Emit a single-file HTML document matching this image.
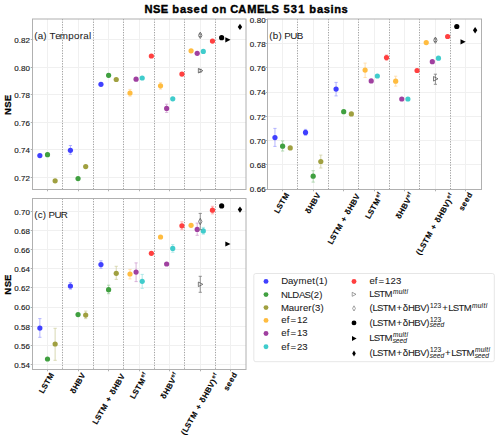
<!DOCTYPE html><html><head><meta charset="utf-8"><style>html,body{margin:0;padding:0;background:#fff;width:500px;height:441px;overflow:hidden;position:relative}</style></head><body><svg width="500" height="441" viewBox="0 0 500 441" style="position:absolute;left:0;top:0">
<rect width="500" height="441" fill="#fff"/>
<text x="144.47 153.12 160.63 168.32 172.16 179.92 186.72 193.54 200.70 208.24 211.94 219.43 226.95 230.28 238.36 247.21 257.12 264.50 271.46 279.34 283.39 290.84 298.29 305.43 309.28 317.03 323.83 330.40 334.20 341.50" y="13.10" font-family='"Liberation Sans", sans-serif' font-size="11.1" font-weight="bold" stroke="#000" stroke-width="0.4" fill="#000">NSE based on CAMELS 531 basins</text>
<line x1="32.5" y1="177.5" x2="246.0" y2="177.5" stroke="#f0f0f0" stroke-width="1"/>
<line x1="32.5" y1="149.5" x2="246.0" y2="149.5" stroke="#f0f0f0" stroke-width="1"/>
<line x1="32.5" y1="122.5" x2="246.0" y2="122.5" stroke="#f0f0f0" stroke-width="1"/>
<line x1="32.5" y1="94.5" x2="246.0" y2="94.5" stroke="#f0f0f0" stroke-width="1"/>
<line x1="32.5" y1="67.5" x2="246.0" y2="67.5" stroke="#f0f0f0" stroke-width="1"/>
<line x1="32.5" y1="39.5" x2="246.0" y2="39.5" stroke="#f0f0f0" stroke-width="1"/>
<line x1="47.5" y1="19.0" x2="47.5" y2="189.5" stroke="#f0f0f0" stroke-width="1"/>
<line x1="78.5" y1="19.0" x2="78.5" y2="189.5" stroke="#f0f0f0" stroke-width="1"/>
<line x1="108.5" y1="19.0" x2="108.5" y2="189.5" stroke="#f0f0f0" stroke-width="1"/>
<line x1="139.5" y1="19.0" x2="139.5" y2="189.5" stroke="#f0f0f0" stroke-width="1"/>
<line x1="169.5" y1="19.0" x2="169.5" y2="189.5" stroke="#f0f0f0" stroke-width="1"/>
<line x1="200.5" y1="19.0" x2="200.5" y2="189.5" stroke="#f0f0f0" stroke-width="1"/>
<line x1="230.5" y1="19.0" x2="230.5" y2="189.5" stroke="#f0f0f0" stroke-width="1"/>
<line x1="62.5" y1="19.0" x2="62.5" y2="189.5" stroke="#a2a2a2" stroke-width="1" stroke-dasharray="1.3 1.3"/>
<line x1="93.5" y1="19.0" x2="93.5" y2="189.5" stroke="#a2a2a2" stroke-width="1" stroke-dasharray="1.3 1.3"/>
<line x1="123.5" y1="19.0" x2="123.5" y2="189.5" stroke="#a2a2a2" stroke-width="1" stroke-dasharray="1.3 1.3"/>
<line x1="154.5" y1="19.0" x2="154.5" y2="189.5" stroke="#a2a2a2" stroke-width="1" stroke-dasharray="1.3 1.3"/>
<line x1="184.5" y1="19.0" x2="184.5" y2="189.5" stroke="#a2a2a2" stroke-width="1" stroke-dasharray="1.3 1.3"/>
<line x1="215.5" y1="19.0" x2="215.5" y2="189.5" stroke="#a2a2a2" stroke-width="1" stroke-dasharray="1.3 1.3"/>
<rect x="32.5" y="19.0" width="213.50" height="170.50" fill="none" stroke="#b0b0b0" stroke-width="1"/>
<line x1="30.7" y1="177.5" x2="32.5" y2="177.5" stroke="#b0b0b0" stroke-width="1"/>
<text x="14.25 18.77 21.06 25.60" y="180.90" font-family='"Liberation Sans", sans-serif' font-size="8.0" stroke="#1a1a1a" stroke-width="0.15" fill="#1a1a1a">0.72</text>
<line x1="30.7" y1="149.5" x2="32.5" y2="149.5" stroke="#b0b0b0" stroke-width="1"/>
<text x="14.25 18.77 21.06 25.60" y="152.90" font-family='"Liberation Sans", sans-serif' font-size="8.0" stroke="#1a1a1a" stroke-width="0.15" fill="#1a1a1a">0.74</text>
<line x1="30.7" y1="122.5" x2="32.5" y2="122.5" stroke="#b0b0b0" stroke-width="1"/>
<text x="14.25 18.77 21.06 25.60" y="125.90" font-family='"Liberation Sans", sans-serif' font-size="8.0" stroke="#1a1a1a" stroke-width="0.15" fill="#1a1a1a">0.76</text>
<line x1="30.7" y1="94.5" x2="32.5" y2="94.5" stroke="#b0b0b0" stroke-width="1"/>
<text x="14.25 18.77 21.06 25.60" y="97.90" font-family='"Liberation Sans", sans-serif' font-size="8.0" stroke="#1a1a1a" stroke-width="0.15" fill="#1a1a1a">0.78</text>
<line x1="30.7" y1="67.5" x2="32.5" y2="67.5" stroke="#b0b0b0" stroke-width="1"/>
<text x="14.25 18.77 21.06 25.60" y="70.90" font-family='"Liberation Sans", sans-serif' font-size="8.0" stroke="#1a1a1a" stroke-width="0.15" fill="#1a1a1a">0.80</text>
<line x1="30.7" y1="39.5" x2="32.5" y2="39.5" stroke="#b0b0b0" stroke-width="1"/>
<text x="14.25 18.77 21.06 25.60" y="42.90" font-family='"Liberation Sans", sans-serif' font-size="8.0" stroke="#1a1a1a" stroke-width="0.15" fill="#1a1a1a">0.82</text>
<line x1="47.5" y1="189.5" x2="47.5" y2="191.3" stroke="#b0b0b0" stroke-width="1"/>
<line x1="78.5" y1="189.5" x2="78.5" y2="191.3" stroke="#b0b0b0" stroke-width="1"/>
<line x1="108.5" y1="189.5" x2="108.5" y2="191.3" stroke="#b0b0b0" stroke-width="1"/>
<line x1="139.5" y1="189.5" x2="139.5" y2="191.3" stroke="#b0b0b0" stroke-width="1"/>
<line x1="169.5" y1="189.5" x2="169.5" y2="191.3" stroke="#b0b0b0" stroke-width="1"/>
<line x1="200.5" y1="189.5" x2="200.5" y2="191.3" stroke="#b0b0b0" stroke-width="1"/>
<line x1="230.5" y1="189.5" x2="230.5" y2="191.3" stroke="#b0b0b0" stroke-width="1"/>
<text x="34.24 37.71 43.37 46.86 49.46 55.30 59.63 68.31 73.98 79.73 83.29 88.98" y="38.50" font-family='"Liberation Sans", sans-serif' font-size="9.8" stroke="#1a1a1a" stroke-width="0.05" fill="#1a1a1a">(a) Temporal</text>
<circle cx="39.86" cy="155.6" r="2.6" fill="#4040ff"/>
<path d="M47.50,153.0V156.4M45.90,153.0h3.2M45.90,156.4h3.2" stroke="#a6d2a6" stroke-width="0.85" fill="none"/>
<circle cx="47.50" cy="154.7" r="2.6" fill="#40a040"/>
<circle cx="55.14" cy="180.8" r="2.6" fill="#a0a040"/>
<path d="M70.41,145.5V154.3M68.81,145.5h3.2M68.81,154.3h3.2" stroke="#a8a8ff" stroke-width="0.85" fill="none"/>
<circle cx="70.41" cy="150.3" r="2.6" fill="#4040ff"/>
<circle cx="78.05" cy="178.6" r="2.6" fill="#40a040"/>
<circle cx="85.69" cy="166.6" r="2.6" fill="#a0a040"/>
<circle cx="100.96" cy="84.3" r="2.6" fill="#4040ff"/>
<path d="M108.60,73.5V77.0M107.00,73.5h3.2M107.00,77.0h3.2" stroke="#a6d2a6" stroke-width="0.85" fill="none"/>
<circle cx="108.60" cy="75.3" r="2.6" fill="#40a040"/>
<circle cx="116.24" cy="79.5" r="2.6" fill="#a0a040"/>
<path d="M129.99,89.4V96.2M128.39,89.4h3.2M128.39,96.2h3.2" stroke="#ffdca6" stroke-width="0.85" fill="none"/>
<circle cx="129.99" cy="93.0" r="2.6" fill="#ffbc40"/>
<circle cx="136.09" cy="79.2" r="2.6" fill="#a040a0"/>
<circle cx="142.20" cy="78.0" r="2.6" fill="#40cccc"/>
<circle cx="151.37" cy="56.0" r="2.6" fill="#ff4040"/>
<path d="M160.54,82.6V89.1M158.94,82.6h3.2M158.94,89.1h3.2" stroke="#ffdca6" stroke-width="0.85" fill="none"/>
<circle cx="160.54" cy="85.8" r="2.6" fill="#ffbc40"/>
<path d="M166.64,104.2V112.4M165.04,104.2h3.2M165.04,112.4h3.2" stroke="#d2a6d2" stroke-width="0.85" fill="none"/>
<circle cx="166.64" cy="108.4" r="2.6" fill="#a040a0"/>
<circle cx="172.75" cy="98.8" r="2.6" fill="#40cccc"/>
<circle cx="181.92" cy="74.1" r="2.6" fill="#ff4040"/>
<circle cx="191.09" cy="50.8" r="2.6" fill="#ffbc40"/>
<circle cx="197.20" cy="53.3" r="2.6" fill="#a040a0"/>
<circle cx="203.31" cy="51.4" r="2.6" fill="#40cccc"/>
<circle cx="212.47" cy="41.1" r="2.6" fill="#ff4040"/>
<path d="M200.25,34.0V36.6M198.65,34.0h3.2M198.65,36.6h3.2" stroke="#808080" stroke-width="0.85" fill="none"/>
<path d="M200.25,32.10 L201.95,35.30 L200.25,38.50 L198.55,35.30 Z" fill="none" stroke="#555" stroke-width="0.75"/>
<path d="M200.25,69.3V72.1M198.65,69.3h3.2M198.65,72.1h3.2" stroke="#808080" stroke-width="0.85" fill="none"/>
<path d="M198.35,68.40 L202.85,70.70 L198.35,73.00 Z" fill="none" stroke="#555" stroke-width="0.75"/>
<circle cx="221.64" cy="37.7" r="2.6" fill="#000"/>
<path d="M225.34,37.20 L230.55,39.80 L225.34,42.40 Z" fill="#000"/>
<path d="M239.97,23.70 L242.16,26.90 L239.97,30.10 L237.77,26.90 Z" fill="#000"/>
<line x1="267.5" y1="164.5" x2="481.5" y2="164.5" stroke="#f0f0f0" stroke-width="1"/>
<line x1="267.5" y1="140.5" x2="481.5" y2="140.5" stroke="#f0f0f0" stroke-width="1"/>
<line x1="267.5" y1="116.5" x2="481.5" y2="116.5" stroke="#f0f0f0" stroke-width="1"/>
<line x1="267.5" y1="92.5" x2="481.5" y2="92.5" stroke="#f0f0f0" stroke-width="1"/>
<line x1="267.5" y1="67.5" x2="481.5" y2="67.5" stroke="#f0f0f0" stroke-width="1"/>
<line x1="267.5" y1="43.5" x2="481.5" y2="43.5" stroke="#f0f0f0" stroke-width="1"/>
<line x1="282.5" y1="19.0" x2="282.5" y2="189.5" stroke="#f0f0f0" stroke-width="1"/>
<line x1="313.5" y1="19.0" x2="313.5" y2="189.5" stroke="#f0f0f0" stroke-width="1"/>
<line x1="343.5" y1="19.0" x2="343.5" y2="189.5" stroke="#f0f0f0" stroke-width="1"/>
<line x1="374.5" y1="19.0" x2="374.5" y2="189.5" stroke="#f0f0f0" stroke-width="1"/>
<line x1="404.5" y1="19.0" x2="404.5" y2="189.5" stroke="#f0f0f0" stroke-width="1"/>
<line x1="435.5" y1="19.0" x2="435.5" y2="189.5" stroke="#f0f0f0" stroke-width="1"/>
<line x1="465.5" y1="19.0" x2="465.5" y2="189.5" stroke="#f0f0f0" stroke-width="1"/>
<line x1="297.5" y1="19.0" x2="297.5" y2="189.5" stroke="#a2a2a2" stroke-width="1" stroke-dasharray="1.3 1.3"/>
<line x1="328.5" y1="19.0" x2="328.5" y2="189.5" stroke="#a2a2a2" stroke-width="1" stroke-dasharray="1.3 1.3"/>
<line x1="358.5" y1="19.0" x2="358.5" y2="189.5" stroke="#a2a2a2" stroke-width="1" stroke-dasharray="1.3 1.3"/>
<line x1="389.5" y1="19.0" x2="389.5" y2="189.5" stroke="#a2a2a2" stroke-width="1" stroke-dasharray="1.3 1.3"/>
<line x1="419.5" y1="19.0" x2="419.5" y2="189.5" stroke="#a2a2a2" stroke-width="1" stroke-dasharray="1.3 1.3"/>
<line x1="450.5" y1="19.0" x2="450.5" y2="189.5" stroke="#a2a2a2" stroke-width="1" stroke-dasharray="1.3 1.3"/>
<rect x="267.5" y="19.0" width="214.00" height="170.50" fill="none" stroke="#b0b0b0" stroke-width="1"/>
<line x1="265.7" y1="189.5" x2="267.5" y2="189.5" stroke="#b0b0b0" stroke-width="1"/>
<text x="249.85 254.37 256.66 261.20" y="192.40" font-family='"Liberation Sans", sans-serif' font-size="8.0" stroke="#1a1a1a" stroke-width="0.15" fill="#1a1a1a">0.66</text>
<line x1="265.7" y1="164.5" x2="267.5" y2="164.5" stroke="#b0b0b0" stroke-width="1"/>
<text x="249.85 254.37 256.66 261.20" y="168.17" font-family='"Liberation Sans", sans-serif' font-size="8.0" stroke="#1a1a1a" stroke-width="0.15" fill="#1a1a1a">0.68</text>
<line x1="265.7" y1="140.5" x2="267.5" y2="140.5" stroke="#b0b0b0" stroke-width="1"/>
<text x="249.85 254.37 256.66 261.20" y="143.94" font-family='"Liberation Sans", sans-serif' font-size="8.0" stroke="#1a1a1a" stroke-width="0.15" fill="#1a1a1a">0.70</text>
<line x1="265.7" y1="116.5" x2="267.5" y2="116.5" stroke="#b0b0b0" stroke-width="1"/>
<text x="249.85 254.37 256.66 261.20" y="119.71" font-family='"Liberation Sans", sans-serif' font-size="8.0" stroke="#1a1a1a" stroke-width="0.15" fill="#1a1a1a">0.72</text>
<line x1="265.7" y1="92.5" x2="267.5" y2="92.5" stroke="#b0b0b0" stroke-width="1"/>
<text x="249.85 254.37 256.66 261.20" y="95.48" font-family='"Liberation Sans", sans-serif' font-size="8.0" stroke="#1a1a1a" stroke-width="0.15" fill="#1a1a1a">0.74</text>
<line x1="265.7" y1="67.5" x2="267.5" y2="67.5" stroke="#b0b0b0" stroke-width="1"/>
<text x="249.85 254.37 256.66 261.20" y="71.25" font-family='"Liberation Sans", sans-serif' font-size="8.0" stroke="#1a1a1a" stroke-width="0.15" fill="#1a1a1a">0.76</text>
<line x1="265.7" y1="43.5" x2="267.5" y2="43.5" stroke="#b0b0b0" stroke-width="1"/>
<text x="249.85 254.37 256.66 261.20" y="47.02" font-family='"Liberation Sans", sans-serif' font-size="8.0" stroke="#1a1a1a" stroke-width="0.15" fill="#1a1a1a">0.78</text>
<line x1="265.7" y1="19.5" x2="267.5" y2="19.5" stroke="#b0b0b0" stroke-width="1"/>
<text x="249.85 254.37 256.66 261.20" y="22.79" font-family='"Liberation Sans", sans-serif' font-size="8.0" stroke="#1a1a1a" stroke-width="0.15" fill="#1a1a1a">0.80</text>
<line x1="282.5" y1="189.5" x2="282.5" y2="191.3" stroke="#b0b0b0" stroke-width="1"/>
<line x1="313.5" y1="189.5" x2="313.5" y2="191.3" stroke="#b0b0b0" stroke-width="1"/>
<line x1="343.5" y1="189.5" x2="343.5" y2="191.3" stroke="#b0b0b0" stroke-width="1"/>
<line x1="374.5" y1="189.5" x2="374.5" y2="191.3" stroke="#b0b0b0" stroke-width="1"/>
<line x1="404.5" y1="189.5" x2="404.5" y2="191.3" stroke="#b0b0b0" stroke-width="1"/>
<line x1="435.5" y1="189.5" x2="435.5" y2="191.3" stroke="#b0b0b0" stroke-width="1"/>
<line x1="465.5" y1="189.5" x2="465.5" y2="191.3" stroke="#b0b0b0" stroke-width="1"/>
<text x="269.24 272.81 278.57 282.06 284.35 290.15 296.87" y="38.50" font-family='"Liberation Sans", sans-serif' font-size="9.8" stroke="#1a1a1a" stroke-width="0.05" fill="#1a1a1a">(b) PUB</text>
<path d="M274.96,128.4V146.4M273.36,128.4h3.2M273.36,146.4h3.2" stroke="#a8a8ff" stroke-width="0.85" fill="none"/>
<circle cx="274.96" cy="137.6" r="2.6" fill="#4040ff"/>
<path d="M282.60,140.9V151.0M281.00,140.9h3.2M281.00,151.0h3.2" stroke="#a6d2a6" stroke-width="0.85" fill="none"/>
<circle cx="282.60" cy="146.2" r="2.6" fill="#40a040"/>
<circle cx="290.24" cy="147.9" r="2.6" fill="#a0a040"/>
<path d="M305.52,129.4V135.4M303.92,129.4h3.2M303.92,135.4h3.2" stroke="#a8a8ff" stroke-width="0.85" fill="none"/>
<circle cx="305.52" cy="132.4" r="2.6" fill="#4040ff"/>
<path d="M313.16,170.7V182.1M311.56,170.7h3.2M311.56,182.1h3.2" stroke="#a6d2a6" stroke-width="0.85" fill="none"/>
<circle cx="313.16" cy="176.2" r="2.6" fill="#40a040"/>
<path d="M320.80,155.1V168.0M319.20,155.1h3.2M319.20,168.0h3.2" stroke="#d2d2a6" stroke-width="0.85" fill="none"/>
<circle cx="320.80" cy="161.5" r="2.6" fill="#a0a040"/>
<path d="M336.08,82.4V95.9M334.48,82.4h3.2M334.48,95.9h3.2" stroke="#a8a8ff" stroke-width="0.85" fill="none"/>
<circle cx="336.08" cy="89.1" r="2.6" fill="#4040ff"/>
<circle cx="343.72" cy="111.7" r="2.6" fill="#40a040"/>
<circle cx="351.36" cy="113.9" r="2.6" fill="#a0a040"/>
<path d="M365.11,63.1V77.5M363.51,63.1h3.2M363.51,77.5h3.2" stroke="#ffdca6" stroke-width="0.85" fill="none"/>
<circle cx="365.11" cy="70.1" r="2.6" fill="#ffbc40"/>
<circle cx="371.22" cy="80.9" r="2.6" fill="#a040a0"/>
<circle cx="377.34" cy="76.0" r="2.6" fill="#40cccc"/>
<path d="M386.50,55.0V60.2M384.90,55.0h3.2M384.90,60.2h3.2" stroke="#ffa6a6" stroke-width="0.85" fill="none"/>
<circle cx="386.50" cy="57.6" r="2.6" fill="#ff4040"/>
<path d="M395.67,76.2V86.1M394.07,76.2h3.2M394.07,86.1h3.2" stroke="#ffdca6" stroke-width="0.85" fill="none"/>
<circle cx="395.67" cy="81.2" r="2.6" fill="#ffbc40"/>
<circle cx="401.78" cy="99.0" r="2.6" fill="#a040a0"/>
<circle cx="407.90" cy="99.0" r="2.6" fill="#40cccc"/>
<circle cx="417.06" cy="70.5" r="2.6" fill="#ff4040"/>
<circle cx="426.23" cy="42.6" r="2.6" fill="#ffbc40"/>
<circle cx="432.34" cy="61.7" r="2.6" fill="#a040a0"/>
<circle cx="438.46" cy="58.2" r="2.6" fill="#40cccc"/>
<circle cx="447.62" cy="36.5" r="2.6" fill="#ff4040"/>
<path d="M435.40,38.8V41.6M433.80,38.8h3.2M433.80,41.6h3.2" stroke="#808080" stroke-width="0.85" fill="none"/>
<path d="M435.40,37.00 L437.10,40.20 L435.40,43.40 L433.70,40.20 Z" fill="none" stroke="#555" stroke-width="0.75"/>
<path d="M435.40,74.2V84.3M433.80,74.2h3.2M433.80,84.3h3.2" stroke="#808080" stroke-width="0.85" fill="none"/>
<path d="M433.50,76.50 L438.00,78.80 L433.50,81.10 Z" fill="none" stroke="#555" stroke-width="0.75"/>
<circle cx="456.79" cy="26.5" r="2.6" fill="#000"/>
<path d="M460.50,39.20 L465.70,41.80 L460.50,44.40 Z" fill="#000"/>
<path d="M475.13,27.00 L477.33,30.20 L475.13,33.40 L472.93,30.20 Z" fill="#000"/>
<g transform="translate(278.40,214.00) rotate(-60)"><text x="-0.01 4.83 10.27 15.65" y="0.00" font-family='"Liberation Sans", sans-serif' font-size="7.8" font-weight="bold" stroke="#000" stroke-width="0.12" fill="#000">LSTM</text></g>
<g transform="translate(309.53,214.50) rotate(-60)"><text x="0.19 5.42 11.38 17.31" y="0.00" font-family='"Liberation Sans", sans-serif' font-size="7.8" font-weight="bold" stroke="#000" stroke-width="0.12" fill="#000">δHBV</text></g>
<g transform="translate(331.95,245.00) rotate(-60)"><text x="-0.01 4.83 10.27 15.65 22.82 26.05 31.66 34.23 39.46 45.41 51.35" y="0.00" font-family='"Liberation Sans", sans-serif' font-size="7.8" font-weight="bold" stroke="#000" stroke-width="0.12" fill="#000">LSTM + δHBV</text></g>
<g transform="translate(369.48,219.60) rotate(-60)"><text x="-0.01 4.83 10.27 15.65" y="0.00" font-family='"Liberation Sans", sans-serif' font-size="7.8" font-weight="bold" stroke="#000" stroke-width="0.12" fill="#000">LSTM</text><text x="23.16 26.67" y="-3.13" font-family='"Liberation Sans", sans-serif' font-size="5.46" font-weight="bold" stroke="#000" stroke-width="0.08" fill="#000">ef</text></g>
<g transform="translate(399.84,219.60) rotate(-60)"><text x="0.19 5.42 11.38 17.31" y="0.00" font-family='"Liberation Sans", sans-serif' font-size="7.8" font-weight="bold" stroke="#000" stroke-width="0.12" fill="#000">δHBV</text><text x="23.05 26.56" y="-3.13" font-family='"Liberation Sans", sans-serif' font-size="5.46" font-weight="bold" stroke="#000" stroke-width="0.08" fill="#000">ef</text></g>
<g transform="translate(420.10,255.80) rotate(-60)"><text x="0.40 3.40 8.23 13.68 19.06 26.23 29.45 35.06 37.64 42.86 48.82 54.76 60.34" y="0.00" font-family='"Liberation Sans", sans-serif' font-size="7.8" font-weight="bold" stroke="#000" stroke-width="0.12" fill="#000">(LSTM + δHBV)</text><text x="63.89 67.41" y="-3.13" font-family='"Liberation Sans", sans-serif' font-size="5.46" font-weight="bold" stroke="#000" stroke-width="0.08" fill="#000">ef</text></g>
<g transform="translate(462.86,211.30) rotate(-60)"><text x="0.05 4.79 9.84 14.82" y="0.00" font-family='"Liberation Sans", sans-serif' font-size="7.8" font-weight="bold" stroke="#000" stroke-width="0.12" fill="#000">seed</text></g>
<line x1="32.5" y1="364.5" x2="246.0" y2="364.5" stroke="#f0f0f0" stroke-width="1"/>
<line x1="32.5" y1="345.5" x2="246.0" y2="345.5" stroke="#f0f0f0" stroke-width="1"/>
<line x1="32.5" y1="326.5" x2="246.0" y2="326.5" stroke="#f0f0f0" stroke-width="1"/>
<line x1="32.5" y1="307.5" x2="246.0" y2="307.5" stroke="#f0f0f0" stroke-width="1"/>
<line x1="32.5" y1="287.5" x2="246.0" y2="287.5" stroke="#f0f0f0" stroke-width="1"/>
<line x1="32.5" y1="268.5" x2="246.0" y2="268.5" stroke="#f0f0f0" stroke-width="1"/>
<line x1="32.5" y1="249.5" x2="246.0" y2="249.5" stroke="#f0f0f0" stroke-width="1"/>
<line x1="32.5" y1="230.5" x2="246.0" y2="230.5" stroke="#f0f0f0" stroke-width="1"/>
<line x1="32.5" y1="211.5" x2="246.0" y2="211.5" stroke="#f0f0f0" stroke-width="1"/>
<line x1="47.5" y1="198.5" x2="47.5" y2="369.5" stroke="#f0f0f0" stroke-width="1"/>
<line x1="78.5" y1="198.5" x2="78.5" y2="369.5" stroke="#f0f0f0" stroke-width="1"/>
<line x1="108.5" y1="198.5" x2="108.5" y2="369.5" stroke="#f0f0f0" stroke-width="1"/>
<line x1="139.5" y1="198.5" x2="139.5" y2="369.5" stroke="#f0f0f0" stroke-width="1"/>
<line x1="169.5" y1="198.5" x2="169.5" y2="369.5" stroke="#f0f0f0" stroke-width="1"/>
<line x1="200.5" y1="198.5" x2="200.5" y2="369.5" stroke="#f0f0f0" stroke-width="1"/>
<line x1="230.5" y1="198.5" x2="230.5" y2="369.5" stroke="#f0f0f0" stroke-width="1"/>
<line x1="62.5" y1="198.5" x2="62.5" y2="369.5" stroke="#a2a2a2" stroke-width="1" stroke-dasharray="1.3 1.3"/>
<line x1="93.5" y1="198.5" x2="93.5" y2="369.5" stroke="#a2a2a2" stroke-width="1" stroke-dasharray="1.3 1.3"/>
<line x1="123.5" y1="198.5" x2="123.5" y2="369.5" stroke="#a2a2a2" stroke-width="1" stroke-dasharray="1.3 1.3"/>
<line x1="154.5" y1="198.5" x2="154.5" y2="369.5" stroke="#a2a2a2" stroke-width="1" stroke-dasharray="1.3 1.3"/>
<line x1="184.5" y1="198.5" x2="184.5" y2="369.5" stroke="#a2a2a2" stroke-width="1" stroke-dasharray="1.3 1.3"/>
<line x1="215.5" y1="198.5" x2="215.5" y2="369.5" stroke="#a2a2a2" stroke-width="1" stroke-dasharray="1.3 1.3"/>
<rect x="32.5" y="198.5" width="213.50" height="171.00" fill="none" stroke="#b0b0b0" stroke-width="1"/>
<line x1="30.7" y1="364.5" x2="32.5" y2="364.5" stroke="#b0b0b0" stroke-width="1"/>
<text x="14.25 18.77 21.06 25.60" y="368.00" font-family='"Liberation Sans", sans-serif' font-size="8.0" stroke="#1a1a1a" stroke-width="0.15" fill="#1a1a1a">0.54</text>
<line x1="30.7" y1="345.5" x2="32.5" y2="345.5" stroke="#b0b0b0" stroke-width="1"/>
<text x="14.25 18.77 21.06 25.60" y="348.82" font-family='"Liberation Sans", sans-serif' font-size="8.0" stroke="#1a1a1a" stroke-width="0.15" fill="#1a1a1a">0.56</text>
<line x1="30.7" y1="326.5" x2="32.5" y2="326.5" stroke="#b0b0b0" stroke-width="1"/>
<text x="14.25 18.77 21.06 25.60" y="329.65" font-family='"Liberation Sans", sans-serif' font-size="8.0" stroke="#1a1a1a" stroke-width="0.15" fill="#1a1a1a">0.58</text>
<line x1="30.7" y1="307.5" x2="32.5" y2="307.5" stroke="#b0b0b0" stroke-width="1"/>
<text x="14.25 18.77 21.06 25.60" y="310.48" font-family='"Liberation Sans", sans-serif' font-size="8.0" stroke="#1a1a1a" stroke-width="0.15" fill="#1a1a1a">0.60</text>
<line x1="30.7" y1="287.5" x2="32.5" y2="287.5" stroke="#b0b0b0" stroke-width="1"/>
<text x="14.25 18.77 21.06 25.60" y="291.30" font-family='"Liberation Sans", sans-serif' font-size="8.0" stroke="#1a1a1a" stroke-width="0.15" fill="#1a1a1a">0.62</text>
<line x1="30.7" y1="268.5" x2="32.5" y2="268.5" stroke="#b0b0b0" stroke-width="1"/>
<text x="14.25 18.77 21.06 25.60" y="272.12" font-family='"Liberation Sans", sans-serif' font-size="8.0" stroke="#1a1a1a" stroke-width="0.15" fill="#1a1a1a">0.64</text>
<line x1="30.7" y1="249.5" x2="32.5" y2="249.5" stroke="#b0b0b0" stroke-width="1"/>
<text x="14.25 18.77 21.06 25.60" y="252.95" font-family='"Liberation Sans", sans-serif' font-size="8.0" stroke="#1a1a1a" stroke-width="0.15" fill="#1a1a1a">0.66</text>
<line x1="30.7" y1="230.5" x2="32.5" y2="230.5" stroke="#b0b0b0" stroke-width="1"/>
<text x="14.25 18.77 21.06 25.60" y="233.78" font-family='"Liberation Sans", sans-serif' font-size="8.0" stroke="#1a1a1a" stroke-width="0.15" fill="#1a1a1a">0.68</text>
<line x1="30.7" y1="211.5" x2="32.5" y2="211.5" stroke="#b0b0b0" stroke-width="1"/>
<text x="14.25 18.77 21.06 25.60" y="214.60" font-family='"Liberation Sans", sans-serif' font-size="8.0" stroke="#1a1a1a" stroke-width="0.15" fill="#1a1a1a">0.70</text>
<line x1="47.5" y1="369.5" x2="47.5" y2="371.3" stroke="#b0b0b0" stroke-width="1"/>
<line x1="78.5" y1="369.5" x2="78.5" y2="371.3" stroke="#b0b0b0" stroke-width="1"/>
<line x1="108.5" y1="369.5" x2="108.5" y2="371.3" stroke="#b0b0b0" stroke-width="1"/>
<line x1="139.5" y1="369.5" x2="139.5" y2="371.3" stroke="#b0b0b0" stroke-width="1"/>
<line x1="169.5" y1="369.5" x2="169.5" y2="371.3" stroke="#b0b0b0" stroke-width="1"/>
<line x1="200.5" y1="369.5" x2="200.5" y2="371.3" stroke="#b0b0b0" stroke-width="1"/>
<line x1="230.5" y1="369.5" x2="230.5" y2="371.3" stroke="#b0b0b0" stroke-width="1"/>
<text x="34.24 37.70 42.80 46.29 48.57 54.38 60.87" y="218.00" font-family='"Liberation Sans", sans-serif' font-size="9.8" stroke="#1a1a1a" stroke-width="0.05" fill="#1a1a1a">(c) PUR</text>
<path d="M39.86,318.6V337.3M38.26,318.6h3.2M38.26,337.3h3.2" stroke="#a8a8ff" stroke-width="0.85" fill="none"/>
<circle cx="39.86" cy="328.1" r="2.6" fill="#4040ff"/>
<circle cx="47.50" cy="359.0" r="2.6" fill="#40a040"/>
<path d="M55.14,328.3V360.3M53.54,328.3h3.2M53.54,360.3h3.2" stroke="#d2d2a6" stroke-width="0.85" fill="none"/>
<circle cx="55.14" cy="344.0" r="2.6" fill="#a0a040"/>
<path d="M70.41,282.5V289.2M68.81,282.5h3.2M68.81,289.2h3.2" stroke="#a8a8ff" stroke-width="0.85" fill="none"/>
<circle cx="70.41" cy="286.0" r="2.6" fill="#4040ff"/>
<circle cx="78.05" cy="314.6" r="2.6" fill="#40a040"/>
<path d="M85.69,311.1V318.6M84.09,311.1h3.2M84.09,318.6h3.2" stroke="#d2d2a6" stroke-width="0.85" fill="none"/>
<circle cx="85.69" cy="315.1" r="2.6" fill="#a0a040"/>
<path d="M100.96,260.8V268.3M99.36,260.8h3.2M99.36,268.3h3.2" stroke="#a8a8ff" stroke-width="0.85" fill="none"/>
<circle cx="100.96" cy="264.6" r="2.6" fill="#4040ff"/>
<path d="M108.60,285.2V293.7M107.00,285.2h3.2M107.00,293.7h3.2" stroke="#a6d2a6" stroke-width="0.85" fill="none"/>
<circle cx="108.60" cy="289.7" r="2.6" fill="#40a040"/>
<path d="M116.24,266.3V279.4M114.64,266.3h3.2M114.64,279.4h3.2" stroke="#d2d2a6" stroke-width="0.85" fill="none"/>
<circle cx="116.24" cy="273.3" r="2.6" fill="#a0a040"/>
<path d="M129.99,269.4V278.9M128.39,269.4h3.2M128.39,278.9h3.2" stroke="#ffdca6" stroke-width="0.85" fill="none"/>
<circle cx="129.99" cy="274.0" r="2.6" fill="#ffbc40"/>
<path d="M136.09,262.9V281.6M134.50,262.9h3.2M134.50,281.6h3.2" stroke="#d2a6d2" stroke-width="0.85" fill="none"/>
<circle cx="136.09" cy="272.1" r="2.6" fill="#a040a0"/>
<path d="M142.20,274.4V288.4M140.60,274.4h3.2M140.60,288.4h3.2" stroke="#a6e6e6" stroke-width="0.85" fill="none"/>
<circle cx="142.20" cy="281.3" r="2.6" fill="#40cccc"/>
<circle cx="151.37" cy="253.3" r="2.6" fill="#ff4040"/>
<circle cx="160.54" cy="237.0" r="2.6" fill="#ffbc40"/>
<circle cx="166.64" cy="264.0" r="2.6" fill="#a040a0"/>
<path d="M172.75,244.6V252.2M171.16,244.6h3.2M171.16,252.2h3.2" stroke="#a6e6e6" stroke-width="0.85" fill="none"/>
<circle cx="172.75" cy="248.4" r="2.6" fill="#40cccc"/>
<path d="M181.92,221.8V229.7M180.32,221.8h3.2M180.32,229.7h3.2" stroke="#ffa6a6" stroke-width="0.85" fill="none"/>
<circle cx="181.92" cy="225.8" r="2.6" fill="#ff4040"/>
<circle cx="191.09" cy="225.3" r="2.6" fill="#ffbc40"/>
<path d="M197.20,223.1V235.3M195.60,223.1h3.2M195.60,235.3h3.2" stroke="#d2a6d2" stroke-width="0.85" fill="none"/>
<circle cx="197.20" cy="229.4" r="2.6" fill="#a040a0"/>
<path d="M203.31,227.4V234.2M201.71,227.4h3.2M201.71,234.2h3.2" stroke="#a6e6e6" stroke-width="0.85" fill="none"/>
<circle cx="203.31" cy="230.9" r="2.6" fill="#40cccc"/>
<path d="M212.47,206.3V213.9M210.87,206.3h3.2M210.87,213.9h3.2" stroke="#ffa6a6" stroke-width="0.85" fill="none"/>
<circle cx="212.47" cy="210.2" r="2.6" fill="#ff4040"/>
<path d="M200.25,213.4V229.7M198.65,213.4h3.2M198.65,229.7h3.2" stroke="#808080" stroke-width="0.85" fill="none"/>
<path d="M200.25,218.30 L201.95,221.50 L200.25,224.70 L198.55,221.50 Z" fill="none" stroke="#555" stroke-width="0.75"/>
<path d="M200.25,276.3V292.3M198.65,276.3h3.2M198.65,292.3h3.2" stroke="#808080" stroke-width="0.85" fill="none"/>
<path d="M198.35,282.00 L202.85,284.30 L198.35,286.60 Z" fill="none" stroke="#555" stroke-width="0.75"/>
<circle cx="221.64" cy="205.9" r="2.6" fill="#000"/>
<path d="M225.34,241.40 L230.55,244.00 L225.34,246.60 Z" fill="#000"/>
<path d="M239.97,206.40 L242.16,209.60 L239.97,212.80 L237.77,209.60 Z" fill="#000"/>
<g transform="translate(43.30,394.00) rotate(-60)"><text x="-0.01 4.83 10.27 15.65" y="0.00" font-family='"Liberation Sans", sans-serif' font-size="7.8" font-weight="bold" stroke="#000" stroke-width="0.12" fill="#000">LSTM</text></g>
<g transform="translate(74.42,394.50) rotate(-60)"><text x="0.19 5.42 11.38 17.31" y="0.00" font-family='"Liberation Sans", sans-serif' font-size="7.8" font-weight="bold" stroke="#000" stroke-width="0.12" fill="#000">δHBV</text></g>
<g transform="translate(96.83,425.00) rotate(-60)"><text x="-0.01 4.83 10.27 15.65 22.82 26.05 31.66 34.23 39.46 45.41 51.35" y="0.00" font-family='"Liberation Sans", sans-serif' font-size="7.8" font-weight="bold" stroke="#000" stroke-width="0.12" fill="#000">LSTM + δHBV</text></g>
<g transform="translate(134.35,399.60) rotate(-60)"><text x="-0.01 4.83 10.27 15.65" y="0.00" font-family='"Liberation Sans", sans-serif' font-size="7.8" font-weight="bold" stroke="#000" stroke-width="0.12" fill="#000">LSTM</text><text x="23.16 26.67" y="-3.13" font-family='"Liberation Sans", sans-serif' font-size="5.46" font-weight="bold" stroke="#000" stroke-width="0.08" fill="#000">ef</text></g>
<g transform="translate(164.70,399.60) rotate(-60)"><text x="0.19 5.42 11.38 17.31" y="0.00" font-family='"Liberation Sans", sans-serif' font-size="7.8" font-weight="bold" stroke="#000" stroke-width="0.12" fill="#000">δHBV</text><text x="23.05 26.56" y="-3.13" font-family='"Liberation Sans", sans-serif' font-size="5.46" font-weight="bold" stroke="#000" stroke-width="0.08" fill="#000">ef</text></g>
<g transform="translate(184.95,435.80) rotate(-60)"><text x="0.40 3.40 8.23 13.68 19.06 26.23 29.45 35.06 37.64 42.86 48.82 54.76 60.34" y="0.00" font-family='"Liberation Sans", sans-serif' font-size="7.8" font-weight="bold" stroke="#000" stroke-width="0.12" fill="#000">(LSTM + δHBV)</text><text x="63.89 67.41" y="-3.13" font-family='"Liberation Sans", sans-serif' font-size="5.46" font-weight="bold" stroke="#000" stroke-width="0.08" fill="#000">ef</text></g>
<g transform="translate(227.70,391.30) rotate(-60)"><text x="0.05 4.79 9.84 14.82" y="0.00" font-family='"Liberation Sans", sans-serif' font-size="7.8" font-weight="bold" stroke="#000" stroke-width="0.12" fill="#000">seed</text></g>
<g transform="translate(11.4,105.2) rotate(-90)"><text x="-9.89 -2.46 3.99" y="0.00" font-family='"Liberation Sans", sans-serif' font-size="9.5" font-weight="bold" stroke="#000" stroke-width="0.25" fill="#000">NSE</text></g>
<g transform="translate(11.4,284.9) rotate(-90)"><text x="-9.89 -2.46 3.99" y="0.00" font-family='"Liberation Sans", sans-serif' font-size="9.5" font-weight="bold" stroke="#000" stroke-width="0.25" fill="#000">NSE</text></g>
<rect x="253.8" y="273.5" width="240.5" height="88.2" rx="2" ry="2" fill="#fff" stroke="#e0e0e0" stroke-width="0.8"/>
<circle cx="266" cy="281.4" r="2.45" fill="#4040ff"/>
<text x="281.14 287.89 293.34 298.47 306.64 312.30 315.40 318.74 324.23" y="284.30" font-family='"Liberation Sans", sans-serif' font-size="9.6" stroke="#1a1a1a" stroke-width="0.07" fill="#1a1a1a">Daymet(1)</text>
<circle cx="266" cy="294.6" r="2.45" fill="#40a040"/>
<text x="281.05 287.46 292.37 298.89 304.41 310.42 313.76 319.24" y="297.50" font-family='"Liberation Sans", sans-serif' font-size="9.6" stroke="#1a1a1a" stroke-width="0.07" fill="#1a1a1a">NLDAS(2)</text>
<circle cx="266" cy="307.6" r="2.45" fill="#a0a040"/>
<text x="281.01 288.69 294.05 299.61 302.95 308.25 311.69 315.04 320.52" y="310.50" font-family='"Liberation Sans", sans-serif' font-size="9.6" stroke="#1a1a1a" stroke-width="0.07" fill="#1a1a1a">Maurer(3)</text>
<circle cx="266" cy="320.4" r="2.45" fill="#ffbc40"/>
<text x="281.28 286.77 290.42 296.89 302.36" y="323.30" font-family='"Liberation Sans", sans-serif' font-size="9.6" stroke="#1a1a1a" stroke-width="0.07" fill="#1a1a1a">ef=12</text>
<circle cx="266" cy="333.5" r="2.45" fill="#a040a0"/>
<text x="281.28 286.77 290.42 296.89 302.36" y="336.40" font-family='"Liberation Sans", sans-serif' font-size="9.6" stroke="#1a1a1a" stroke-width="0.07" fill="#1a1a1a">ef=13</text>
<circle cx="266" cy="346.7" r="2.45" fill="#40cccc"/>
<text x="281.28 286.77 290.42 296.89 302.36" y="349.60" font-family='"Liberation Sans", sans-serif' font-size="9.6" stroke="#1a1a1a" stroke-width="0.07" fill="#1a1a1a">ef=23</text>
<circle cx="354" cy="281.5" r="2.45" fill="#ff4040"/>
<text x="369.38 374.87 378.52 384.99 390.46 395.93" y="284.40" font-family='"Liberation Sans", sans-serif' font-size="9.6" stroke="#1a1a1a" stroke-width="0.07" fill="#1a1a1a">ef=123</text>
<path d="M352.2,292.3 L356,294.3 L352.2,296.3 Z" fill="#fff" stroke="#666" stroke-width="0.6"/>
<text x="369.13 373.72 379.34 384.62" y="297.20" font-family='"Liberation Sans", sans-serif' font-size="9.6" stroke="#1a1a1a" stroke-width="0.07" fill="#1a1a1a">LSTM</text>
<text x="392.90 398.63 402.47 404.30 406.49" y="293.70" font-family='"Liberation Sans", sans-serif' font-size="6.6" font-style="italic" stroke="#1a1a1a" stroke-width="0.06" fill="#1a1a1a">multi</text>
<path d="M354,305.79999999999995 L355.4,308.4 L354,311.0 L352.6,308.4 Z" fill="#fff" stroke="#666" stroke-width="0.6"/>
<text x="369.48 372.48 377.07 382.70 387.97 396.48 402.84 407.91 414.36 420.25 426.21" y="311.30" font-family='"Liberation Sans", sans-serif' font-size="9.6" stroke="#1a1a1a" stroke-width="0.07" fill="#1a1a1a">(LSTM+δHBV)</text>
<text x="429.96 433.78 437.59" y="307.80" font-family='"Liberation Sans", sans-serif' font-size="6.6" stroke="#1a1a1a" stroke-width="0.06" fill="#1a1a1a">123</text>
<text x="442.14 448.27 452.86 458.49 463.76" y="311.30" font-family='"Liberation Sans", sans-serif' font-size="9.6" stroke="#1a1a1a" stroke-width="0.07" fill="#1a1a1a">+LSTM</text>
<text x="472.04 477.78 481.62 483.44 485.64" y="307.80" font-family='"Liberation Sans", sans-serif' font-size="6.6" font-style="italic" stroke="#1a1a1a" stroke-width="0.06" fill="#1a1a1a">multi</text>
<circle cx="354" cy="322.9" r="2.45" fill="#000"/>
<text x="369.48 372.48 377.07 382.70 387.97 396.48 402.84 407.91 414.36 420.25 426.21" y="325.80" font-family='"Liberation Sans", sans-serif' font-size="9.6" stroke="#1a1a1a" stroke-width="0.07" fill="#1a1a1a">(LSTM+δHBV)</text>
<text x="429.96 433.78 437.59" y="321.60" font-family='"Liberation Sans", sans-serif' font-size="6.6" stroke="#1a1a1a" stroke-width="0.06" fill="#1a1a1a">123</text>
<text x="429.80 433.02 436.71 440.46" y="327.20" font-family='"Liberation Sans", sans-serif' font-size="6.6" font-style="italic" stroke="#1a1a1a" stroke-width="0.06" fill="#1a1a1a">seed</text>
<path d="M352,336.0 L356.6,338.5 L352,341.0 Z" fill="#000"/>
<text x="369.13 373.72 379.34 384.62" y="341.40" font-family='"Liberation Sans", sans-serif' font-size="9.6" stroke="#1a1a1a" stroke-width="0.07" fill="#1a1a1a">LSTM</text>
<text x="392.90 398.63 402.47 404.30 406.49" y="337.20" font-family='"Liberation Sans", sans-serif' font-size="6.6" font-style="italic" stroke="#1a1a1a" stroke-width="0.06" fill="#1a1a1a">multi</text>
<text x="392.64 395.86 399.55 403.30" y="342.80" font-family='"Liberation Sans", sans-serif' font-size="6.6" font-style="italic" stroke="#1a1a1a" stroke-width="0.06" fill="#1a1a1a">seed</text>
<path d="M354,350.5 L355.8,353.5 L354,356.5 L352.2,353.5 Z" fill="#000"/>
<text x="369.48 372.48 377.07 382.70 387.97 396.48 402.84 407.91 414.36 420.25 426.21" y="356.40" font-family='"Liberation Sans", sans-serif' font-size="9.6" stroke="#1a1a1a" stroke-width="0.07" fill="#1a1a1a">(LSTM+δHBV)</text>
<text x="429.96 433.78 437.59" y="352.20" font-family='"Liberation Sans", sans-serif' font-size="6.6" stroke="#1a1a1a" stroke-width="0.06" fill="#1a1a1a">123</text>
<text x="429.80 433.02 436.71 440.46" y="357.80" font-family='"Liberation Sans", sans-serif' font-size="6.6" font-style="italic" stroke="#1a1a1a" stroke-width="0.06" fill="#1a1a1a">seed</text>
<text x="445.00 451.14 455.73 461.35 466.62" y="356.40" font-family='"Liberation Sans", sans-serif' font-size="9.6" stroke="#1a1a1a" stroke-width="0.07" fill="#1a1a1a">+LSTM</text>
<text x="474.91 480.64 484.48 486.31 488.50" y="352.20" font-family='"Liberation Sans", sans-serif' font-size="6.6" font-style="italic" stroke="#1a1a1a" stroke-width="0.06" fill="#1a1a1a">multi</text>
<text x="474.65 477.87 481.56 485.31" y="357.80" font-family='"Liberation Sans", sans-serif' font-size="6.6" font-style="italic" stroke="#1a1a1a" stroke-width="0.06" fill="#1a1a1a">seed</text>
</svg></body></html>
